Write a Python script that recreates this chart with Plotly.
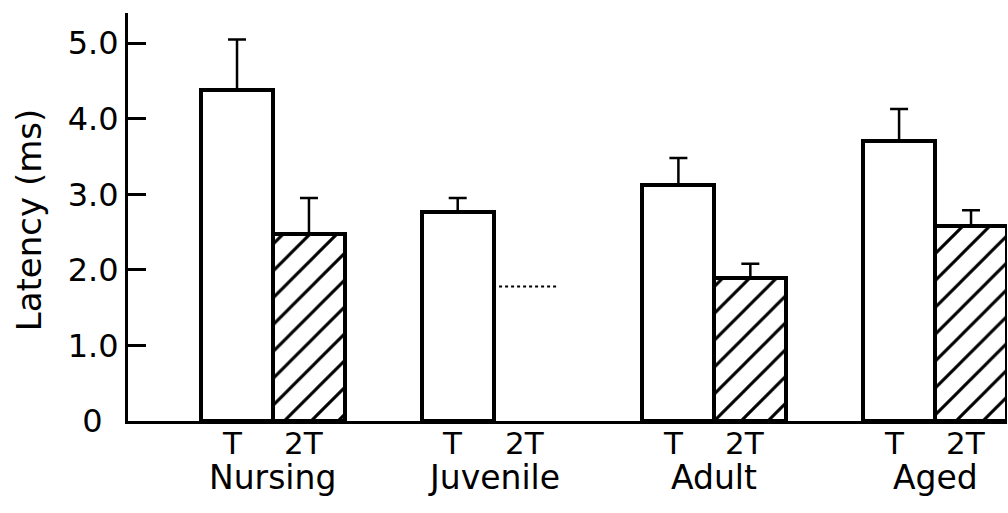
import plotly.graph_objects as go

# Latency of responses to single (T) and double (2T) threshold stimulation
groups = ["Nursing", "Juvenile", "Adult", "Aged"]
t_mean = [4.38, 2.76, 3.13, 3.70]
t_upper = [5.05, 2.95, 3.48, 4.13]
t2_mean = [2.48, None, 1.89, 2.58]
t2_upper = [2.95, None, 2.08, 2.79]
juvenile_2t_level = 1.78          # no bar for Juvenile 2T, shown as dotted level
y_tick_vals = [0, 1, 2, 3, 4, 5]
y_tick_text = ["0\u2002", "1.0", "2.0", "3.0", "4.0", "5.0"]
stim_labels = ["T", "2T"]

BAR_W = 0.326
OFF = BAR_W / 2
FONT = "DejaVu Sans"

gx = list(range(len(groups)))
x_t = [g - OFF for g in gx]
x_2t = [g + OFF for g in gx]

fig = go.Figure()

fig.add_trace(go.Bar(
    x=x_t, y=t_mean, width=BAR_W,
    marker=dict(color="white", line=dict(color="black", width=4)),
    error_y=dict(type="data", symmetric=False,
                 array=[u - m for u, m in zip(t_upper, t_mean)],
                 arrayminus=[0] * len(t_mean),
                 color="black", thickness=2.5, width=9),
    showlegend=False,
))

x2 = [x for x, v in zip(x_2t, t2_mean) if v is not None]
y2 = [v for v in t2_mean if v is not None]
e2 = [u - v for u, v in zip(t2_upper, t2_mean) if v is not None]
fig.add_trace(go.Bar(
    x=x2, y=y2, width=BAR_W,
    marker=dict(color="white", line=dict(color="black", width=4),
                pattern=dict(shape="/", fgcolor="black", bgcolor="white",
                             fgopacity=1, fillmode="replace",
                             size=19, solidity=0.16)),
    error_y=dict(type="data", symmetric=False, array=e2,
                 arrayminus=[0] * len(e2),
                 color="black", thickness=2.5, width=9),
    showlegend=False,
))

# dotted level in the empty Juvenile 2T slot
jx = x_2t[groups.index("Juvenile")]
fig.add_trace(go.Scatter(
    x=[jx - OFF * 0.85, jx + OFF * 0.75], y=[juvenile_2t_level] * 2,
    mode="lines", line=dict(color="black", width=2, dash="dot"),
    showlegend=False, hoverinfo="skip",
))

annotations = []
for g in gx:
    for lbl, x in zip(stim_labels, (x_t[g], x_2t[g])):
        annotations.append(dict(
            x=x, y=-0.055, xref="x", yref="paper", text=lbl, showarrow=False,
            xshift=-5, font=dict(family=FONT, size=31, color="black"),
            xanchor="center", yanchor="middle"))
    annotations.append(dict(
        x=g, y=-0.139, xref="x", yref="paper", text=groups[g], showarrow=False,
        font=dict(family=FONT, size=33, color="black"),
        xanchor="center", yanchor="middle"))

annotations.append(dict(
    x=-0.1126, y=0.492, xref="paper", yref="paper", text="Latency (ms)",
    showarrow=False, textangle=-90,
    font=dict(family=FONT, size=34, color="black"),
    xanchor="center", yanchor="middle"))

fig.update_layout(
    width=1008, height=513,
    margin=dict(l=128, r=1, t=13, b=92),
    paper_bgcolor="white", plot_bgcolor="white",
    bargap=0, barmode="overlay",
    annotations=annotations,
    xaxis=dict(range=[-0.657, 3.326], showgrid=False, zeroline=False,
               showticklabels=False, ticks="",
               showline=True, linecolor="black", linewidth=3),
    yaxis=dict(range=[0, 5.4], showgrid=False, zeroline=False,
               tickvals=y_tick_vals, ticktext=y_tick_text,
               ticks="inside", ticklen=18, tickwidth=2.5, tickcolor="black",
               tickfont=dict(family=FONT, size=32, color="black"),
               showline=True, linecolor="black", linewidth=3),
)

fig.write_html("out.html")
